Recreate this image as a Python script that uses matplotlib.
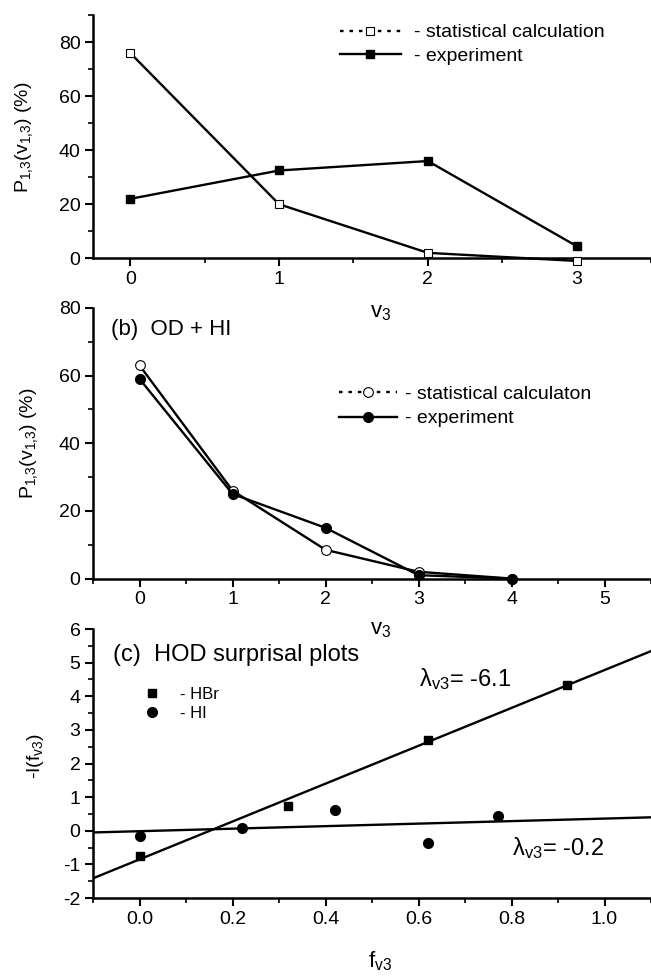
import matplotlib
matplotlib.use("Agg")
import matplotlib.pyplot as plt
import numpy as np
from matplotlib.lines import Line2D
from matplotlib.ticker import MultipleLocator

plt.rcParams["font.family"] = ["Liberation Sans", "DejaVu Sans"]
plt.rcParams["mathtext.fontset"] = "custom"
plt.rcParams["mathtext.rm"] = "Liberation Sans"
plt.rcParams["mathtext.it"] = "Liberation Sans:italic"

# (a) vibrational populations, OD + HBr
v3_a = [0, 1, 2, 3]
stat_a = [76, 20, 2, -1]
exp_a = [22, 32.5, 36, 4.5]

# (b) vibrational populations, OD + HI
v3_b = [0, 1, 2, 3, 4]
stat_b = [63, 26, 8.5, 2, 0]
exp_b = [59, 25, 15, 1, 0]

# (c) surprisal plots
f_hbr = [0.0, 0.32, 0.62, 0.92]
s_hbr = [-0.75, 0.75, 2.7, 4.35]
f_hi = [0.0, 0.22, 0.42, 0.62, 0.77]
s_hi = [-0.15, 0.08, 0.63, -0.35, 0.45]
fit_hbr = [5.63, -0.85]   # slope, intercept
fit_hi = [0.375, -0.0125]

lw = 1.7
ms = 6

fig = plt.figure(figsize=(6.51, 9.76), dpi=100)
left, width = 0.143, 0.857
ax_a = fig.add_axes([left, 0.7354, width, 0.249])
ax_b = fig.add_axes([left, 0.4072, width, 0.2773])
ax_c = fig.add_axes([left, 0.0799, width, 0.2756])
for ax in (ax_a, ax_b, ax_c):
    ax.patch.set_alpha(0)

P_LABEL = r"$\mathregular{P_{1{,}3}(v_{1{,}3})}$ (%)"


def style(ax):
    for s in ["top", "right"]:
        ax.spines[s].set_visible(False)
    for s in ["left", "bottom"]:
        ax.spines[s].set_linewidth(1.8)
    ax.tick_params(which="major", direction="out", length=6, width=1.5, labelsize=14, pad=3)
    ax.tick_params(which="minor", direction="out", length=3.5, width=1.2)


# ---- panel (a)
ax_a.plot(v3_a, stat_a, "-", color="black", lw=lw, marker="s", ms=ms,
          mfc="white", mec="black", mew=0.8, clip_on=False, zorder=3)
ax_a.plot(v3_a, exp_a, "-", color="black", lw=lw, marker="s", ms=ms,
          mfc="black", mec="black", clip_on=False, zorder=3)
ax_a.set_xlim(-0.25, 3.5)
ax_a.set_ylim(0, 90)
ax_a.set_xticks([0, 1, 2, 3])
ax_a.set_yticks([0, 20, 40, 60, 80])
ax_a.xaxis.set_minor_locator(MultipleLocator(0.5))
ax_a.yaxis.set_minor_locator(MultipleLocator(10))
style(ax_a)
ax_a.set_xlabel(r"$\mathregular{v_3}$", fontsize=16)
ax_a.xaxis.set_label_coords(0.515, -0.18)
ax_a.set_ylabel(P_LABEL, fontsize=14)
ax_a.yaxis.set_label_coords(-0.105, 0.5)
h_a = [
    Line2D([], [], color="black", ls=(0, (1.5, 2.5)), lw=lw, marker="s", ms=ms, mfc="white", mec="black", mew=0.8),
    Line2D([], [], color="black", ls="-", lw=lw, marker="s", ms=ms, mfc="black", mec="black"),
]
ax_a.legend(h_a, ["- statistical calculation", "- experiment"], loc="upper left",
            bbox_to_anchor=(0.443, 0.965), frameon=False, fontsize=14, handlelength=3.1,
            handletextpad=0.7, labelspacing=0.3, borderpad=0, borderaxespad=0)

# ---- panel (b)
ax_b.plot(v3_b, stat_b, "-", color="black", lw=lw, marker="o", ms=ms + 1,
          mfc="white", mec="black", mew=0.8, clip_on=False, zorder=3)
ax_b.plot(v3_b, exp_b, "-", color="black", lw=lw, marker="o", ms=ms + 1,
          mfc="black", mec="black", clip_on=False, zorder=3)
ax_b.set_xlim(-0.5, 5.5)
ax_b.set_ylim(0, 80)
ax_b.set_xticks([0, 1, 2, 3, 4, 5])
ax_b.set_yticks([0, 20, 40, 60, 80])
ax_b.xaxis.set_minor_locator(MultipleLocator(0.5))
ax_b.yaxis.set_minor_locator(MultipleLocator(10))
style(ax_b)
ax_b.set_xlabel(r"$\mathregular{v_3}$", fontsize=16)
ax_b.xaxis.set_label_coords(0.515, -0.15)
ax_b.set_ylabel(P_LABEL, fontsize=14)
ax_b.yaxis.set_label_coords(-0.095, 0.5)
ax_b.text(-0.31, 73.5, "(b)  OD + HI", fontsize=16, va="center", ha="left")
h_b = [
    Line2D([], [], color="black", ls=(0, (1.5, 2.5)), lw=lw, marker="o", ms=ms + 1, mfc="white", mec="black", mew=0.8),
    Line2D([], [], color="black", ls="-", lw=lw, marker="o", ms=ms + 1, mfc="black", mec="black"),
]
ax_b.legend(h_b, ["- statistical calculaton", "- experiment"], loc="upper left",
            bbox_to_anchor=(0.44, 0.714), frameon=False, fontsize=14, handlelength=3,
            handletextpad=0.4, labelspacing=0.35, borderpad=0, borderaxespad=0)

# ---- panel (c)
xfit = np.array([-0.1, 1.1])
ax_c.plot(xfit, np.polyval(fit_hbr, xfit), "-", color="black", lw=lw)
ax_c.plot(xfit, np.polyval(fit_hi, xfit), "-", color="black", lw=lw)
ax_c.plot(f_hbr, s_hbr, "s", color="black", ms=ms, ls="none", label="- HBr")
ax_c.plot(f_hi, s_hi, "o", color="black", ms=ms + 1, ls="none", label="- HI")
ax_c.set_xlim(-0.1, 1.1)
ax_c.set_ylim(-2, 6)
ax_c.set_xticks([0.0, 0.2, 0.4, 0.6, 0.8, 1.0])
ax_c.set_xticklabels(["0.0", "0.2", "0.4", "0.6", "0.8", "1.0"])
ax_c.set_yticks(range(-2, 7))
ax_c.set_yticklabels([str(v) for v in range(-2, 7)])
ax_c.xaxis.set_minor_locator(MultipleLocator(0.1))
ax_c.yaxis.set_minor_locator(MultipleLocator(0.5))
style(ax_c)
ax_c.set_xlabel(r"$\mathregular{f_{v3}}$", fontsize=16)
ax_c.xaxis.set_label_coords(0.515, -0.19)
ax_c.set_ylabel(r"-I(f$_{\mathregular{v3}}$)", fontsize=14)
ax_c.yaxis.set_label_coords(-0.085, 0.53)
ax_c.text(-0.058, 5.23, "(c)  HOD surprisal plots", fontsize=17, va="center", ha="left")
ax_c.text(0.6, 4.5, "λ$_{\\mathregular{v3}}$= -6.1", fontsize=17, va="center", ha="left")
ax_c.text(0.8, -0.5, "λ$_{\\mathregular{v3}}$= -0.2", fontsize=17, va="center", ha="left")
ax_c.legend(loc="upper left", bbox_to_anchor=(0.09, 0.785), frameon=False, fontsize=12,
            handlelength=1, handletextpad=1.2, labelspacing=0.25, borderpad=0, borderaxespad=0)

fig.savefig("out.png", dpi=100)
